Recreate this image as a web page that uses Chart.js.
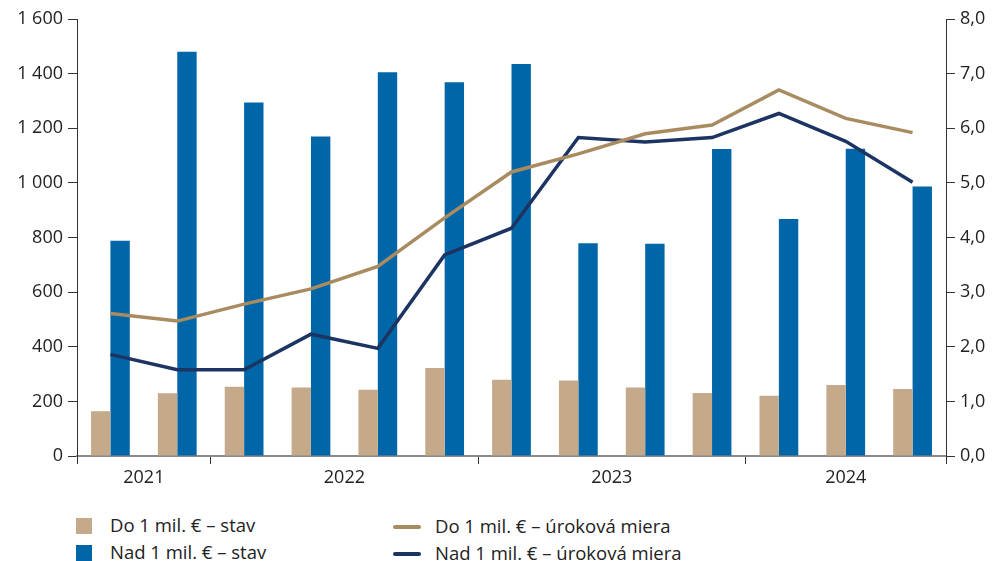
<!DOCTYPE html>
<html>
<head>
<meta charset="utf-8">
<script src="https://cdn.jsdelivr.net/npm/chart.js@4/dist/chart.umd.min.js"></script>
<style>
  body { margin: 0; background: #fff; font-family: "Open Sans", sans-serif; }
  #wrap { position: relative; width: 997px; height: 561px; overflow: hidden; }
  #chart { position: absolute; left: 0; top: 0; }
  .leg { position: absolute; font-size: 18.5px; color: #222; line-height: 20px; white-space: nowrap; }
  .sw { position: absolute; }
</style>
</head>
<body>
<div id="wrap">
  <canvas id="chart" width="997" height="490"></canvas>
  <div id="legend"></div>
</div>
<script>
// quarters, Q3 2021 - Q3 2024
var categories = ['Q3 2021','Q4 2021','Q1 2022','Q2 2022','Q3 2022','Q4 2022',
                  'Q1 2023','Q2 2023','Q3 2023','Q4 2023','Q1 2024','Q2 2024','Q3 2024'];
var years = ['2021', '2022', '2023', '2024'];
var yearSpans = [2, 4, 4, 3];

var doStav  = [164, 230, 254, 251, 243, 322, 279, 276, 251, 231, 221, 260, 245];
var nadStav = [788, 1480, 1294, 1170, 1405, 1368, 1435, 779, 777, 1124, 868, 1125, 987];
var doMiera  = [2.61, 2.47, 2.78, 3.06, 3.47, 4.36, 5.20, 5.53, 5.90, 6.06, 6.70, 6.18, 5.92];
var nadMiera = [1.86, 1.58, 1.58, 2.23, 1.97, 3.68, 4.17, 5.83, 5.75, 5.83, 6.27, 5.76, 5.01];

var seriesNames = ['Do 1 mil. € – stav', 'Nad 1 mil. € – stav',
                   'Do 1 mil. € – úroková miera', 'Nad 1 mil. € – úroková miera'];
var colors = ['#C4AA8A', '#0066A8', '#A88B60', '#1C3461'];

// year boundaries and label positions on the 0..13 scale
var bounds = [0];
var yearPos = [];
for (var i = 0; i < yearSpans.length; i++) {
    var start = bounds[bounds.length - 1];
    bounds.push(start + yearSpans[i]);
    yearPos.push(start + yearSpans[i] / 2);
}

function spaceThousands(v) {
    return String(v).replace(/\B(?=(\d{3})+(?!\d))/g, ' ');
}

var font = { family: '"Open Sans", sans-serif', size: 18 };
var textColor = '#222';

new Chart(document.getElementById('chart').getContext('2d'), {
    data: {
        labels: categories,
        datasets: [
            { type: 'line', label: seriesNames[2], data: doMiera, yAxisID: 'y1',
              borderColor: colors[2], borderWidth: 3.5, pointRadius: 0, tension: 0, order: 0 },
            { type: 'line', label: seriesNames[3], data: nadMiera, yAxisID: 'y1',
              borderColor: colors[3], borderWidth: 3.5, pointRadius: 0, tension: 0, order: 0 },
            { type: 'bar', label: seriesNames[0], data: doStav, yAxisID: 'y',
              backgroundColor: colors[0], categoryPercentage: 0.58, barPercentage: 1, order: 1 },
            { type: 'bar', label: seriesNames[1], data: nadStav, yAxisID: 'y',
              backgroundColor: colors[1], categoryPercentage: 0.58, barPercentage: 1, order: 1 }
        ]
    },
    options: {
        responsive: false,
        animation: false,
        layout: { padding: { top: 19, left: 0, right: 0, bottom: 0 } },
        plugins: { legend: { display: false }, tooltip: { enabled: false } },
        scales: {
            x: { type: 'category', display: false, offset: true },
            x2: {
                type: 'linear', position: 'bottom', min: 0, max: 13,
                afterBuildTicks: function(scale) {
                    var vals = bounds.concat(yearPos).sort(function(a, b) { return a - b; });
                    scale.ticks = vals.map(function(v) { return { value: v }; });
                },
                afterFit: function(scale) { scale.height = 34; },
                border: { display: true, color: '#8a8a8a', width: 2 },
                grid: {
                    drawOnChartArea: false, drawTicks: true, tickLength: 8, lineWidth: 1,
                    tickColor: function(ctx) {
                        return bounds.indexOf(ctx.tick.value) >= 0 ? '#333' : 'rgba(0,0,0,0)';
                    }
                },
                ticks: {
                    autoSkip: false, maxRotation: 0, padding: 3, color: textColor, font: font,
                    callback: function(v) {
                        var k = yearPos.indexOf(v);
                        return k >= 0 ? years[k] : '';
                    }
                }
            },
            y: {
                position: 'left', min: 0, max: 1600,
                afterFit: function(scale) { scale.width = 77; },
                border: { display: true, color: '#333', width: 1 },
                grid: { drawOnChartArea: false, drawTicks: true, tickLength: 9, color: '#333' },
                ticks: { stepSize: 200, padding: 5, color: textColor, font: font,
                         callback: function(v) { return spaceThousands(v); } }
            },
            y1: {
                position: 'right', min: 0, max: 8,
                afterFit: function(scale) { scale.width = 51; },
                border: { display: true, color: '#333', width: 1 },
                grid: { drawOnChartArea: false, drawTicks: true, tickLength: 9, color: '#333' },
                ticks: { stepSize: 1, padding: 5, color: textColor, font: font,
                         callback: function(v) { return v.toFixed(1).replace('.', ','); } }
            }
        }
    }
});

// legend: two columns, bars left, lines right
var legendItems = [
    { name: seriesNames[0], color: colors[0], kind: 'box', x: 76, y: 526 },
    { name: seriesNames[1], color: colors[1], kind: 'box', x: 76, y: 553 },
    { name: seriesNames[2], color: colors[2], kind: 'line', x: 393, y: 527 },
    { name: seriesNames[3], color: colors[3], kind: 'line', x: 393, y: 554 }
];
var lg = document.getElementById('legend');
legendItems.forEach(function(it) {
    var sw = document.createElement('div');
    sw.className = 'sw';
    sw.style.background = it.color;
    if (it.kind === 'box') {
        sw.style.left = it.x + 'px'; sw.style.top = (it.y - 8) + 'px';
        sw.style.width = '16px'; sw.style.height = '16px';
    } else {
        sw.style.left = it.x + 'px'; sw.style.top = (it.y - 2) + 'px';
        sw.style.width = '28px'; sw.style.height = '4px'; sw.style.borderRadius = '2px';
    }
    lg.appendChild(sw);
    var t = document.createElement('div');
    t.className = 'leg';
    t.textContent = it.name;
    t.style.left = (it.kind === 'box' ? 110 : 435) + 'px';
    t.style.top = (it.y - 11) + 'px';
    lg.appendChild(t);
});
</script>
</body>
</html>
